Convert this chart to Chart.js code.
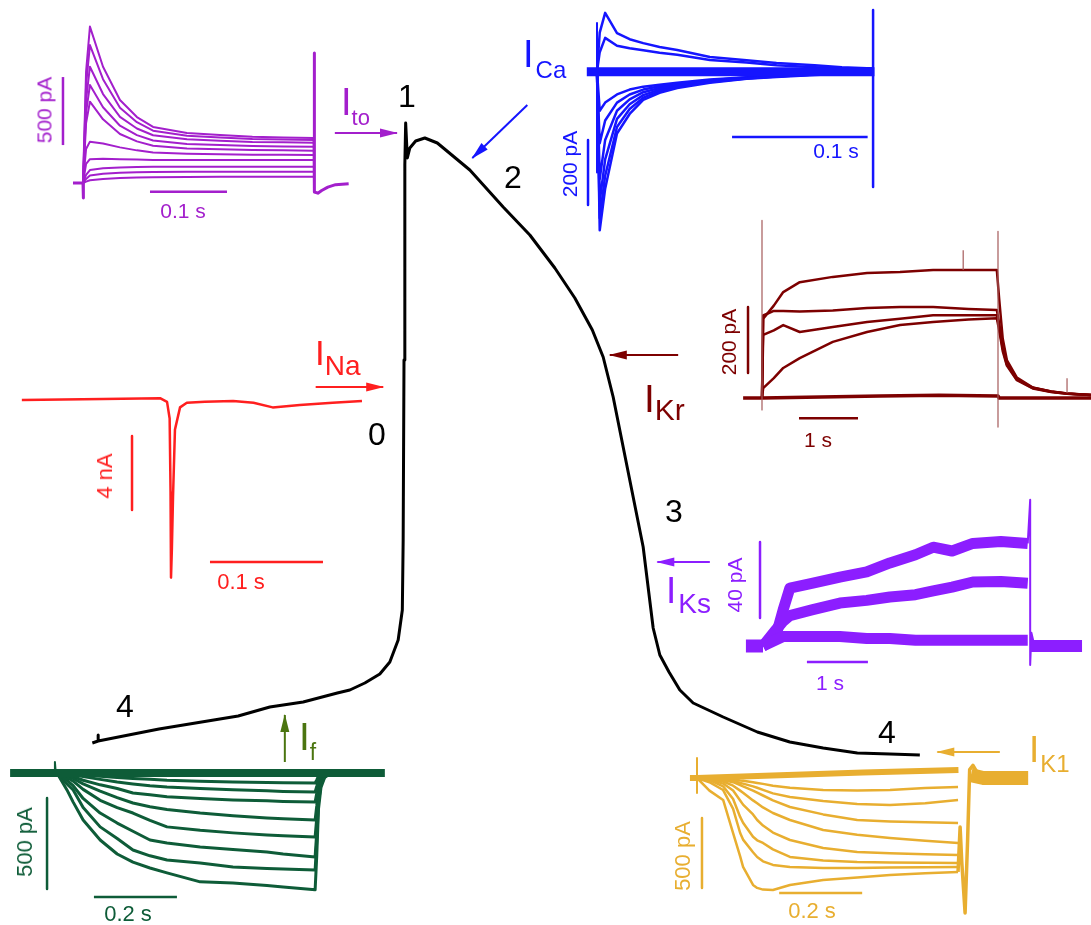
<!DOCTYPE html>
<html>
<head>
<meta charset="utf-8">
<title>Cardiac action potential and ionic currents</title>
<script src="https://cdn.jsdelivr.net/npm/chart.js@4.4.1/dist/chart.umd.min.js"></script>
<style>
  html, body { margin: 0; padding: 0; background: #fff; }
  #stage { position: relative; width: 1091px; height: 925px; overflow: hidden;
           font-family: "Liberation Sans", Arial, sans-serif; }
  #stage canvas { position: absolute; left: 0; top: 0; }
  .t { position: absolute; white-space: nowrap; line-height: 1; }
</style>
</head>
<body>
<div id="stage">
  <canvas id="ap" width="1091" height="925"></canvas>
  <canvas id="ito" width="1091" height="925"></canvas>
  <canvas id="ica" width="1091" height="925"></canvas>
  <canvas id="ina" width="1091" height="925"></canvas>
  <canvas id="ikr" width="1091" height="925"></canvas>
  <canvas id="iks" width="1091" height="925"></canvas>
  <canvas id="if" width="1091" height="925"></canvas>
  <canvas id="ik1" width="1091" height="925"></canvas>
</div>
<script>
// ---------- action potential (time in ms, voltage in mV) ----------
const apTime = [-374, -367, -367, -367, -294, -199, -161, -121, -80, -65, -47, -29, -17, -7, -2, -1, 0, 1, 1, 2,
  4, 7, 14, 25, 40, 79, 119, 151, 181, 205, 226, 239, 251, 263, 275, 287, 299, 307, 318, 331, 347,
  383, 424, 463, 503, 544, 583, 619];
const apVolt = [-83.6, -83.2, -82.0, -83.2, -80.8, -78.2, -76.4, -75.4, -73.6, -73.0, -71.6, -69.8, -67.4, -63.0, -57.0, -43.0, -7.0, 19.0, 32.0, 40.4,
  33.4, 35.4, 36.8, 37.4, 36.4, 31.0, 23.6, 18.0, 11.4, 5.4, -1.0, -6.4, -14.4, -24.4, -34.4, -44.4, -60.6, -66.0, -69.4, -73.0, -75.6,
  -78.4, -81.4, -83.4, -84.6, -85.6, -85.8, -86.0];

// ---------- I_to (s, pA) ----------
const itoTime = [0, 0.004, 0.009, 0.026, 0.048, 0.07, 0.091, 0.135, 0.178, 0.22, 0.26, 0.30];
const itoTraces = [
  [0, 820, 1150, 855, 610, 485, 412, 368, 353, 340, 335, 331],
  [0, 720, 1014, 763, 553, 447, 385, 347, 335, 324, 320, 316],
  [0, 610, 855, 654, 486, 401, 351, 321, 311, 302, 299, 296],
  [0, 520, 720, 557, 421, 352, 312, 287, 279, 272, 269, 267],
  [0, 440, 598, 468, 360, 306, 274, 254, 248, 242, 240, 238],
  [0, 250, 304, 290, 262, 240, 224, 215, 211, 208, 207, 206],
  [0, 140, 175, 178, 175, 172, 170, 169, 169, 169, 169, 169],
  [0, 60, 95, 108, 114, 117, 119, 120, 120, 120, 120, 120],
  [0, 30, 55, 68, 75, 79, 81, 82, 83, 83, 83, 83],
  [0, 10, 20, 30, 36, 40, 43, 45, 46, 46, 46, 46]
];
const itoTailTime = [0.30, 0.30, 0.301, 0.305, 0.31, 0.318, 0.328, 0.345];
const itoTail = [331, 955, -66, -75, -55, -30, -12, -5];

// ---------- I_Ca (s, pA) ----------
const icaTime = [0, 0.002, 0.006, 0.0147, 0.024, 0.034, 0.046, 0.059, 0.083, 0.11, 0.132, 0.16, 0.18, 0.203];
const icaTraces = [
  [0, 120, 181, 119, 100, 88, 76, 67, 45, 35, 27, 20, 14, 10],
  [0, 60, 104, 80, 72, 66, 58, 52, 36, 28, 20, 14, 11, 10],
  [0, -488, -360, -190, -130, -87, -65, -50, -34, -22, -16, -10, -6, -3],
  [0, -450, -320, -170, -115, -80, -60, -46, -32, -21, -15, -9, -5, -3],
  [0, -400, -270, -145, -100, -72, -55, -43, -30, -20, -14, -9, -5, -3],
  [0, -330, -210, -120, -85, -63, -50, -40, -28, -19, -13, -8, -5, -3],
  [0, -220, -150, -95, -70, -55, -45, -37, -26, -18, -12, -8, -5, -3],
  [0, -120, -95, -70, -55, -46, -40, -34, -24, -17, -12, -8, -5, -3]
];

// ---------- I_Na (s, nA) ----------
const inaTime = [-0.132, -0.06, -0.0097, -0.0035, -0.0012, -0.0004, 0, 0.0008, 0.0018, 0.0035, 0.008, 0.014,
  0.03, 0.055, 0.073, 0.09, 0.114, 0.143, 0.169];
const inaCurrent = [0, 0.05, 0.1, -0.1, -1.0, -5.0, -9.6, -8.0, -5.2, -1.6, -0.4, -0.15,
  -0.1, -0.05, -0.15, -0.4, -0.27, -0.15, -0.05];

// ---------- I_Kr (s, pA) ----------
const ikrTime = [0, 0.02, 0.2, 0.36, 0.64, 1.2, 1.78, 2.34, 2.9, 3.5, 3.98, 4.02, 4.08, 4.15, 4.32, 4.59, 4.9, 5.17, 5.58];
const ikrTraces = [
  [0, 240, 280, 321, 351, 367, 379, 382, 388, 388, 388, 300, 180, 115, 62, 32, 20, 14, 9],
  [0, 250, 264, 264, 262, 265, 273, 276, 276, 270, 267, 225, 160, 108, 58, 31, 20, 14, 9],
  [0, 191, 205, 221, 200, 215, 230, 240, 251, 251, 251, 215, 150, 102, 56, 30, 19, 13, 9],
  [0, 30, 60, 91, 121, 170, 200, 221, 230, 238, 242, 205, 142, 98, 54, 29, 18, 13, 9]
];
const ikrFlatTime = [-0.32, 0, 1, 2, 3, 4, 4.02, 5.58];
const ikrFlat = [0, 0, 3, 6, 8, 6, 0, 0];

// ---------- I_Ks (s, pA) ----------
const iksTime = [0, 0.2, 0.33, 0.44, 0.8, 1.26, 1.7, 2.08, 2.5, 2.79, 3.1, 3.44, 3.9, 4.34];
const iksTraces = [
  [0, 3, 5, 5, 5, 5, 4, 4, 3, 3, 3, 3, 3, 3],
  [0, 8, 13, 16, 19, 22.6, 24, 25.8, 27, 29, 31, 33.7, 34, 33],
  [0, 4, 19, 30.5, 33, 36.3, 39, 43.7, 48, 52, 50, 54, 55, 54]
];
const iksEndTime = [4.34, 4.38, 4.38, 4.40, 4.45];
const iksEnd = [54, 77, -10, 7, 0];

// ---------- I_f (s, pA) ----------
const ifTime = [0, 0.024, 0.039, 0.063, 0.104, 0.145, 0.183, 0.224, 0.265, 0.345, 0.424, 0.506, 0.545, 0.622,
  0.626, 0.63, 0.636, 0.645, 0.66];
const ifTraces = [
  [0, -93, -160, -258, -368, -445, -490, -522, -549, -598, -604, -618, -626, -642, -450, -200, -80, -25, 0],
  [0, -60, -93, -190, -296, -360, -423, -455, -478, -494, -516, -525, -528, -533, -370, -165, -65, -20, 0],
  [0, -40, -70, -140, -220, -275, -320, -368, -385, -406, -420, -434, -445, -461, -320, -140, -55, -17, 0],
  [0, -25, -45, -90, -150, -190, -220, -260, -296, -315, -329, -340, -345, -351, -245, -110, -42, -13, 0],
  [0, -15, -30, -60, -100, -135, -165, -185, -200, -220, -235, -247, -252, -258, -180, -80, -30, -10, 0],
  [0, -10, -20, -40, -65, -85, -110, -120, -130, -140, -148, -153, -156, -159, -110, -50, -19, -6, 0],
  [0, -5, -10, -20, -35, -50, -60, -70, -77, -85, -92, -98, -101, -104, -72, -32, -12, -4, 0],
  [0, -3, -5, -10, -18, -25, -30, -35, -40, -45, -50, -52, -54, -55, -38, -17, -7, -2, 0]
];

// ---------- I_K1 (s, pA) ----------
const ik1Time = [0, 0.03, 0.063, 0.087, 0.104, 0.111, 0.135, 0.145, 0.159, 0.183, 0.224, 0.304, 0.386, 0.465, 0.55, 0.629];
const ik1Traces = [
  [0, -90, -157, -393, -560, -635, -764, -785, -797, -800, -764, -728, -710, -693, -680, -671],
  [0, -30, -86, -220, -393, -440, -530, -564, -595, -621, -635, -643, -642, -640, -637, -635],
  [0, -15, -60, -150, -278, -320, -420, -445, -464, -510, -564, -590, -600, -603, -605, -607],
  [0, -10, -40, -90, -160, -190, -260, -300, -340, -390, -443, -500, -528, -538, -545, -550],
  [0, -8, -25, -55, -90, -105, -160, -180, -210, -250, -300, -371, -405, -428, -448, -464],
  [0, -5, -15, -30, -50, -60, -90, -105, -125, -160, -207, -260, -300, -310, -316, -321],
  [0, -3, -10, -20, -35, -40, -60, -70, -85, -110, -136, -165, -185, -193, -180, -157],
  [0, -2, -5, -10, -18, -20, -30, -35, -42, -55, -70, -86, -90, -85, -72, -64]
];
const ik1TopTime = [-0.017, 0, 0.2, 0.4, 0.63];
const ik1Top = [0, 0, 20, 40, 57];
const ik1EndTime = [0.629, 0.634, 0.638, 0.646, 0.652, 0.657, 0.665, 0.675, 0.69];
const ik1End = [-671, -350, -600, -964, -450, 60, 90, 40, 0];

// ---------- colours ----------
const BLACK = '#000000';
const C_TO = '#a31fcc', C_CA = '#1515ff', C_NA = '#ff1f1f', C_KR = '#7d0000',
      C_KS = '#8c1eff', C_F = '#0e5c38', C_F_LBL = '#4b7510', C_K1 = '#e8ae30';

// ---------- placement of each panel: pixel of the data origin and pixels per unit ----------
const CAL = {
  ap:  { x0: 404, kx: 1 / 1.2, y0: 325, ky: 5 },
  ito: { x0: 83,  kx: 770,  y0: 183,  ky: 0.136 },
  ica: { x0: 597, kx: 1360, y0: 71.7, ky: 0.325 },
  ina: { x0: 171, kx: 1130, y0: 400,  ky: 18.5 },
  ikr: { x0: 762, kx: 59,   y0: 398,  ky: 0.33 },
  iks: { x0: 763, kx: 61,   y0: 646,  ky: 1.9 },
  if:  { x0: 57,  kx: 415,  y0: 773,  ky: 0.182 },
  ik1: { x0: 697, kx: 415,  y0: 778,  ky: 0.14 }
};

const W = 1091, H = 925;

function pts(xs, ys) {
  return xs.map((x, i) => ({ x: x, y: ys[i] }));
}

function line(data, color, width, extra) {
  return Object.assign({
    data: data, showLine: true, borderColor: color, backgroundColor: color,
    borderWidth: width, pointRadius: 0, fill: false,
    borderJoinStyle: 'round', borderCapStyle: 'butt'
  }, extra || {});
}

// arrow heads at the end of datasets flagged with arrow: true
const arrowHeads = {
  id: 'arrowHeads',
  afterDatasetsDraw(chart) {
    const ctx = chart.ctx;
    chart.data.datasets.forEach((ds, i) => {
      if (!ds.arrow) return;
      const p = chart.getDatasetMeta(i).data;
      const a = p[p.length - 2], b = p[p.length - 1];
      const ang = Math.atan2(b.y - a.y, b.x - a.x);
      ctx.save();
      ctx.translate(b.x, b.y);
      ctx.rotate(ang);
      ctx.beginPath();
      ctx.moveTo(1, 0);
      ctx.lineTo(-17, -4.5);
      ctx.lineTo(-17, 4.5);
      ctx.closePath();
      ctx.fillStyle = ds.borderColor;
      ctx.fill();
      ctx.restore();
    });
  }
};

function overlay(id, cal, datasets, plugins) {
  return new Chart(document.getElementById(id), {
    type: 'scatter',
    data: { datasets: datasets },
    options: {
      responsive: false,
      animation: false,
      events: [],
      layout: { padding: 0 },
      plugins: { legend: { display: false }, tooltip: { enabled: false } },
      elements: { point: { radius: 0 }, line: { tension: 0 } },
      scales: {
        x: { type: 'linear', display: false, min: -cal.x0 / cal.kx, max: (W - cal.x0) / cal.kx },
        y: { type: 'linear', display: false, min: (cal.y0 - H) / cal.ky, max: cal.y0 / cal.ky }
      }
    },
    plugins: plugins || []
  });
}

// ---------- main action potential with the current arrows ----------
const arrows = [
  { from: [-83, 38.4],   to: [-8.4, 38.4],  color: C_TO },
  { from: [148, 44],     to: [82, 33.4],    color: C_CA },
  { from: [-106, -12.4], to: [-25, -12.4],  color: C_NA },
  { from: [329, -6],     to: [247, -6],     color: C_KR },
  { from: [367, -47.4],  to: [304, -47.4],  color: C_KS },
  { from: [-143, -87.4], to: [-143, -78],   color: C_F_LBL },
  { from: [715, -85.4],  to: [640, -85.4],  color: C_K1 }
];
overlay('ap', CAL.ap, [line(pts(apTime, apVolt), BLACK, 3)].concat(
  arrows.map(a => line([{ x: a.from[0], y: a.from[1] }, { x: a.to[0], y: a.to[1] }], a.color, 2, { arrow: true }))
), [arrowHeads]);

// ---------- I_to ----------
overlay('ito', CAL.ito, [
  line([{ x: -0.013, y: 0 }, { x: 0, y: 0 }, { x: 0, y: -110 }, { x: 0.001, y: 0 }], C_TO, 3),
  ...itoTraces.map(tr => line(pts(itoTime, tr), C_TO, 2)),
  line(pts(itoTailTime, itoTail), C_TO, 3),
  line([{ x: -0.026, y: 279 }, { x: -0.026, y: 779 }], C_TO, 2.5),
  line([{ x: 0.087, y: -64 }, { x: 0.187, y: -64 }], C_TO, 2.5)
]);

// ---------- I_Ca ----------
overlay('ica', CAL.ica, [
  line([{ x: -0.0075, y: 0 }, { x: 0.204, y: 0 }], C_CA, 9),
  line([{ x: 0, y: 150 }, { x: 0, y: -310 }], C_CA, 2),
  ...icaTraces.map(tr => line(pts(icaTime, tr), C_CA, 2.5)),
  line([{ x: 0.203, y: 190 }, { x: 0.203, y: -355 }], C_CA, 2.5),
  line([{ x: -0.0066, y: -210 }, { x: -0.0066, y: -410 }], C_CA, 2.5),
  line([{ x: 0.0993, y: -201 }, { x: 0.199, y: -201 }], C_CA, 2.5)
]);

// ---------- I_Na ----------
overlay('ina', CAL.ina, [
  line(pts(inaTime, inaCurrent), C_NA, 2.5),
  line([{ x: -0.0345, y: -1.95 }, { x: -0.0345, y: -5.95 }], C_NA, 2.5),
  line([{ x: 0.0345, y: -8.76 }, { x: 0.1345, y: -8.76 }], C_NA, 2.5)
]);

// ---------- I_Kr ----------
overlay('ikr', CAL.ikr, [
  line([{ x: 0, y: 538 }, { x: 0, y: -36 }], '#a55a5a', 1.2),
  line([{ x: 4.0, y: 505 }, { x: 4.0, y: -88 }], '#a55a5a', 1.2),
  line([{ x: 3.41, y: 388 }, { x: 3.41, y: 448 }], '#a55a5a', 1.2),
  line([{ x: 5.17, y: 15 }, { x: 5.17, y: 60 }], '#a55a5a', 1.2),
  line(pts(ikrFlatTime, ikrFlat), C_KR, 3.5),
  ...ikrTraces.map(tr => line(pts(ikrTime, tr), C_KR, 2.5)),
  line([{ x: -0.237, y: 276 }, { x: -0.237, y: 76 }], C_KR, 2.5),
  line([{ x: 0.627, y: -61 }, { x: 1.627, y: -61 }], C_KR, 2.5)
]);

// ---------- I_Ks ----------
overlay('iks', CAL.iks, [
  line([{ x: -0.28, y: 0 }, { x: 0, y: 0 }], C_KS, 13),
  line([{ x: 4.38, y: 0 }, { x: 5.23, y: 0 }], C_KS, 12),
  ...iksTraces.map(tr => line(pts(iksTime, tr), C_KS, 11)),
  line(pts(iksEndTime, iksEnd), C_KS, 2),
  line([{ x: -0.049, y: 54.7 }, { x: -0.049, y: 14.7 }], C_KS, 2.5),
  line([{ x: 0.72, y: -8.4 }, { x: 1.72, y: -8.4 }], C_KS, 2.5)
]);

// ---------- I_f ----------
overlay('if', CAL.if, [
  line([{ x: -0.113, y: 0 }, { x: 0.79, y: 0 }], C_F, 8),
  line([{ x: -0.007, y: 0 }, { x: -0.005, y: 60 }, { x: -0.003, y: 0 }], C_F, 2),
  ...ifTraces.map(tr => line(pts(ifTime, tr), C_F, 3)),
  line([{ x: -0.024, y: -137 }, { x: -0.024, y: -637 }], C_F, 2.5),
  line([{ x: 0.089, y: -681 }, { x: 0.289, y: -681 }], C_F, 2.5)
]);

// ---------- I_K1 ----------
overlay('ik1', CAL.ik1, [
  line([{ x: 0, y: 143 }, { x: 0, y: -107 }], C_K1, 2),
  line(pts(ik1TopTime, ik1Top), C_K1, 6),
  ...ik1Traces.map(tr => line(pts(ik1Time, tr), C_K1, 2.5)),
  line(pts(ik1EndTime, ik1End), C_K1, 3.5),
  line([{ x: 0.66, y: 20 }, { x: 0.69, y: 0 }, { x: 0.798, y: 0 }], C_K1, 14),
  line([{ x: 0.012, y: -286 }, { x: 0.012, y: -785 }], C_K1, 2.5),
  line([{ x: 0.198, y: -821 }, { x: 0.398, y: -821 }], C_K1, 2.5)
]);

// ---------- text ----------
const stage = document.getElementById('stage');

function addText(str, x, base, size, color) {
  const d = document.createElement('div');
  d.className = 't';
  d.textContent = str;
  d.style.fontSize = size + 'px';
  d.style.color = color;
  d.style.left = x + 'px';
  d.style.top = (base - 0.8465 * size) + 'px';
  d.style.transform = 'translateX(-50%)';
  stage.appendChild(d);
}

function addVertical(str, cx, cy, size, color) {
  const d = document.createElement('div');
  d.className = 't';
  d.textContent = str;
  d.style.fontSize = size + 'px';
  d.style.color = color;
  d.style.left = cx + 'px';
  d.style.top = cy + 'px';
  d.style.transform = 'translate(-50%, -50%) rotate(-90deg)';
  stage.appendChild(d);
}

function addCurrent(sub, left, base, size, subSize, drop, gap, color) {
  const d = document.createElement('div');
  d.className = 't';
  d.style.fontSize = size + 'px';
  d.style.color = color;
  d.style.left = left + 'px';
  d.style.top = (base - 0.8465 * size) + 'px';
  d.innerHTML = 'I<span style="font-size:' + subSize + 'px;position:relative;top:' + drop +
    'px;margin-left:' + gap + 'px">' + sub + '</span>';
  stage.appendChild(d);
}

// phase numbers
[['1', 407, 107], ['2', 513, 188], ['0', 377, 445], ['3', 674, 522], ['4', 125, 717], ['4', 887, 743]]
  .forEach(n => addText(n[0], n[1], n[2], 32, BLACK));

// scale bar labels
addText('0.1 s', 183, 218, 21, C_TO);
addText('0.1 s', 836, 158, 21, C_CA);
addText('0.1 s', 241, 590, 22, C_NA);
addText('1 s', 818, 447, 21, C_KR);
addText('1 s', 830, 690, 21, C_KS);
addText('0.2 s', 128, 922, 22, C_F);
addText('0.2 s', 812, 919, 22, C_K1);
addVertical('500 pA', 44, 110, 21, C_TO);
addVertical('200 pA', 569, 164, 21, C_CA);
addVertical('4 nA', 105, 476, 22, C_NA);
addVertical('200 pA', 728, 342, 21, C_KR);
addVertical('40 pA', 734, 585, 21, C_KS);
addVertical('500 pA', 25, 842, 22, C_F);
addVertical('500 pA', 683, 856, 22, C_K1);

// current names
addCurrent('to', 341, 115, 38, 22, 10, 0, C_TO);
addCurrent('Ca', 523, 67, 38, 24, 11, 2, C_CA);
addCurrent('Na', 315, 365, 35, 28, 10, 0, C_NA);
addCurrent('Kr', 644, 412, 39, 30, 8, 0, C_KR);
addCurrent('Ks', 666, 603, 37, 28, 10, 2, C_KS);
addCurrent('f', 299, 750, 39, 23, 10, 0, C_F_LBL);
addCurrent('K1', 1029, 762, 37, 24, 10, 1, C_K1);
</script>
</body>
</html>
